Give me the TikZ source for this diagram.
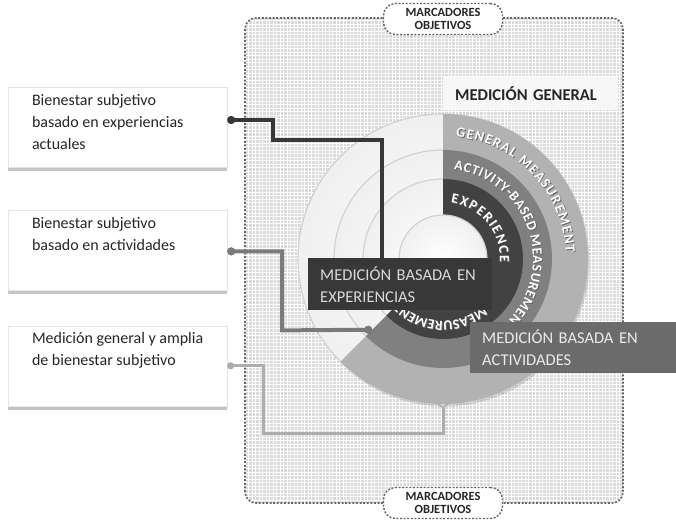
\documentclass[tikz,border=0pt]{standalone}
\usepackage{fontspec}
\setmainfont{Carlito}
\usetikzlibrary{positioning, arrows.meta, shadows, decorations.text, calc}

\newcommand{\ringfont}{\fontsize{14}{14}\selectfont\bfseries}
\newcommand{\boxtext}[1]{\parbox[c][66pt][t]{195pt}{\raggedright\leftskip=12pt #1}}
\newcommand{\ringlabel}[4]{%
  \path[decorate, decoration={text along path, text align={fit to path}, text={|\ringfont\color{black!60}|#4}}]
    ($(ctr)+(#2:#1)+(0.9,-0.9)$) arc[start angle=#2, end angle=#3, radius=#1];
  \path[decorate, decoration={text along path, text align={fit to path}, text={|\ringfont\color{white}|#4}}]
    ($(ctr)+(#2:#1)$) arc[start angle=#2, end angle=#3, radius=#1];
}

\begin{document}
\begin{tikzpicture}[
	x=1pt, y=1pt,
	frame/.style={draw=black!60, line width=1.6pt, dash pattern=on 2pt off 1.6pt, rounded corners=11pt},
	tagoval/.style={draw=black!60, fill=white, line width=1.4pt, dash pattern=on 2pt off 1.6pt, rounded corners=12pt, minimum width=119pt, minimum height=31pt, inner sep=0pt, align=center, font=\fontsize{12.5}{13.5}\selectfont\bfseries, text=black!85},
	infobox/.style={draw=black!10, fill=white, drop shadow={shadow xshift=0pt, shadow yshift=-4pt, opacity=0.45}, inner xsep=12pt, inner ysep=7pt, font=\fontsize{16}{22}\selectfont, text=black!85},
	genbox/.style={fill=black!3, minimum height=33pt, text width=151pt, inner xsep=12pt, align=left, font=\fontsize{16.5}{18}\selectfont\bfseries, text=black!85},
	expbox/.style={fill=black!78, minimum height=52pt, text width=160pt, inner xsep=12pt, align=left, font=\fontsize{16.5}{22}\selectfont, text=black!15},
	actbox/.style={fill=black!58, minimum height=51pt, text width=182pt, inner xsep=12pt, align=left, font=\fontsize{16.5}{22}\selectfont, text=black!8},
	linkA/.style={draw=black!78, line width=4.5pt, arrows={Circle[length=8pt]-}},
	linkB/.style={draw=black!52, line width=4pt, arrows={Circle[length=8pt]-Circle[length=8pt]}},
	linkC/.style={draw=black!32, line width=3pt, arrows={Circle[length=7pt]-Straight Barb[reversed, length=4pt, width=10pt, line width=1.5pt]}}
]
	\useasboundingbox (0,0) rectangle (676,521);
	\fill[white] (0,0) rectangle (676,521);

	% frame with the grid
	\begin{scope}
		\clip[rounded corners=11pt] (245,18) rectangle (623,503);
		\fill[black!15] (245,18) rectangle (623,503);
		\draw[white, line width=0.5pt, step=3.5] (245,18) grid (623,503);
	\end{scope}
	\draw[frame] (245,18) rectangle (623,503);
	\node[tagoval] (mtop) at (443,502) {MARCADORES\\OBJETIVOS};
	\node[tagoval] (mbot) at (443,18) {MARCADORES\\OBJETIVOS};
	\node[genbox, anchor=west] (gen) at (443,427.5) {MEDICIÓN GENERAL};

	% rings
	\coordinate (ctr) at (443,262);
	\fill[white, drop shadow={shadow xshift=1.5pt, shadow yshift=-2.5pt, opacity=0.3}] (ctr) circle[radius=145];
	\foreach \r in {145,109,80}
		\path[draw=black!18, line width=1.2pt, inner color=white, outer color=black!6] (ctr) circle[radius=\r];
	\fill[black!30] (ctr) -- ++(90:145) arc[start angle=90, end angle=-135, radius=145] -- cycle;
	\fill[black!50] (ctr) -- ++(90:109) arc[start angle=90, end angle=-135, radius=109] -- cycle;
	\fill[black!74] (ctr) -- ++(90:80) arc[start angle=90, end angle=-135, radius=80] -- cycle;
	\path[draw=black!18, line width=1.2pt, inner color=white, outer color=black!6] (ctr) circle[radius=44];

	\ringlabel{123}{84}{3}{GENERAL MEASUREMENT}
	\ringlabel{90}{83}{-48}{ACTIVITY-BASED MEASUREMENT}
	\ringlabel{57}{82}{-3}{EXPERIENCE}
	\ringlabel{62}{-50}{-136}{MEASUREMENT}

	\node[expbox, anchor=north west] (exp) at (308,263) {MEDICIÓN BASADA EN\\EXPERIENCIAS};
	\node[actbox, anchor=north west] (act) at (470,199) {MEDICIÓN BASADA EN\\ACTIVIDADES};

	% left boxes
	\node[infobox] (b1) at (117.5,394) {\boxtext{Bienestar subjetivo\\basado en experiencias\\actuales}};
	\node[infobox, below=43pt of b1] (b2) {\boxtext{Bienestar subjetivo\\basado en actividades}};
	\node[infobox, below=35pt of b2] (b3) {\boxtext{Medición general y amplia\\de bienestar subjetivo}};

	% connectors
	\coordinate (endB) at ($(ctr)+(-135:100)$);
	\coordinate (endC) at ($(ctr)+(-90:144)$);
	\draw[linkA] ([yshift=7pt]b1.east) -| ++(46,-20) -| ([xshift=74pt]exp.north west);
	\draw[linkB] ([yshift=-1pt]b2.east) -| ++(55,-79) -- (endB);
	\draw[linkC] (b3.east) -| ++(36,-68) -| (endC);
\end{tikzpicture}
\end{document}
